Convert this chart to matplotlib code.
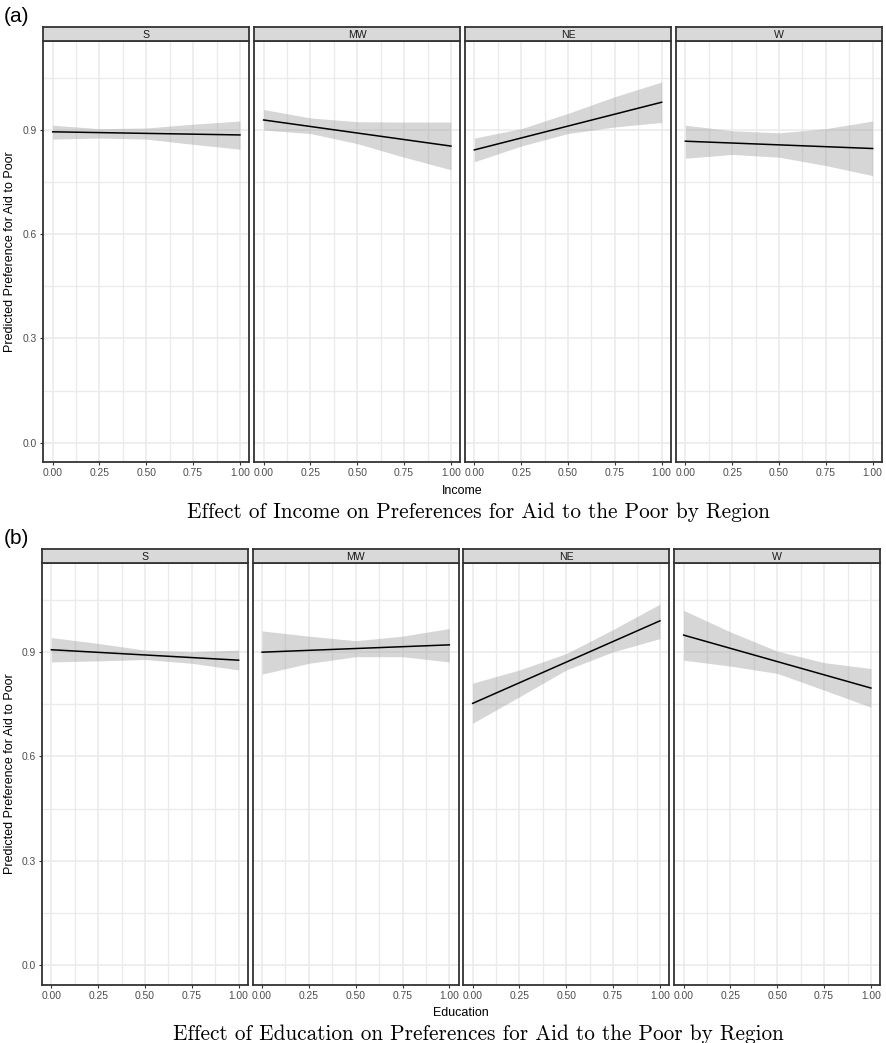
import matplotlib
matplotlib.use("Agg")
import matplotlib.pyplot as plt
import numpy as np
from matplotlib.ticker import MultipleLocator, FixedLocator

plt.rcParams.update({"font.family": ["Liberation Sans", "DejaVu Sans"]})

regions = ["S", "MW", "NE", "W"]
band_x = [0.0, 0.25, 0.5, 0.75, 1.0]
line_x = [0.0, 1.0]

# (a) income
inc_fit = {
    "S": [0.894, 0.885],
    "MW": [0.928, 0.853],
    "NE": [0.842, 0.979],
    "W": [0.867, 0.846],
}
inc_lo = {
    "S": [0.873, 0.876, 0.873, 0.858, 0.844],
    "MW": [0.899, 0.889, 0.860, 0.821, 0.785],
    "NE": [0.808, 0.853, 0.889, 0.908, 0.921],
    "W": [0.818, 0.829, 0.821, 0.797, 0.768],
}
inc_hi = {
    "S": [0.913, 0.903, 0.905, 0.916, 0.925],
    "MW": [0.958, 0.934, 0.923, 0.922, 0.922],
    "NE": [0.876, 0.903, 0.947, 0.995, 1.037],
    "W": [0.913, 0.897, 0.891, 0.903, 0.925],
}

# (b) education
edu_fit = {
    "S": [0.906, 0.876],
    "MW": [0.899, 0.920],
    "NE": [0.752, 0.989],
    "W": [0.948, 0.796],
}
edu_lo = {
    "S": [0.871, 0.874, 0.878, 0.867, 0.848],
    "MW": [0.836, 0.867, 0.886, 0.886, 0.871],
    "NE": [0.695, 0.771, 0.848, 0.900, 0.938],
    "W": [0.876, 0.859, 0.838, 0.790, 0.741],
}
edu_hi = {
    "S": [0.941, 0.924, 0.905, 0.900, 0.905],
    "MW": [0.960, 0.945, 0.932, 0.945, 0.967],
    "NE": [0.810, 0.848, 0.895, 0.964, 1.037],
    "W": [1.019, 0.957, 0.902, 0.869, 0.852],
}

x_ticks = [0.0, 0.25, 0.5, 0.75, 1.0]
x_labels = ["0.00", "0.25", "0.50", "0.75", "1.00"]
y_ticks = [0.0, 0.3, 0.6, 0.9]
y_labels = ["0.0", "0.3", "0.6", "0.9"]

W, H = 886, 1043
fig = plt.figure(figsize=(W / 100, H / 100), dpi=100)

border = "#333333"
grid = "#EBEBEB"


def px_axes(left, top, right, bottom):
    return fig.add_axes([left / W, 1 - bottom / H, (right - left) / W, (bottom - top) / H])


def draw_block(fit, lo, hi, lefts, strip_top, panel_top, panel_bottom, xlabel, tag, tag_y,
               xlab_y, title, title_y):
    for i, r in enumerate(regions):
        l = lefts[i]
        ax = px_axes(l, panel_top, l + 206, panel_bottom)
        ax.set_xlim(-0.05, 1.05)
        ax.set_ylim(-0.055, 1.155)
        ax.xaxis.set_major_locator(FixedLocator(x_ticks))
        ax.xaxis.set_minor_locator(MultipleLocator(0.125))
        ax.yaxis.set_major_locator(FixedLocator(y_ticks))
        ax.yaxis.set_minor_locator(FixedLocator([0.15, 0.45, 0.75, 1.05]))
        ax.grid(True, which="major", color=grid, lw=1.2, zorder=0)
        ax.grid(True, which="minor", color=grid, lw=1.0, zorder=0)
        ax.set_axisbelow(True)
        ax.fill_between(band_x, lo[r], hi[r], color="#999999", alpha=0.4, lw=0, zorder=2)
        ax.plot(line_x, fit[r], color="black", lw=1.1, zorder=3)
        ax.set_xticklabels(x_labels)
        ax.tick_params(axis="both", which="major", labelsize=7.4, colors=border,
                       labelcolor="#4D4D4D", length=2.5, width=0.8, pad=2)
        ax.tick_params(axis="both", which="minor", length=0)
        if i == 0:
            ax.set_yticklabels(y_labels)
        else:
            ax.tick_params(axis="y", which="major", length=0, labelleft=False)
        for s in ax.spines.values():
            s.set_color(border)
            s.set_linewidth(1.3)
        sx = px_axes(l, strip_top, l + 206, panel_top)
        sx.set_facecolor("#D9D9D9")
        sx.set_xticks([])
        sx.set_yticks([])
        for s in sx.spines.values():
            s.set_color(border)
            s.set_linewidth(1.3)
        sx.text(0.5, 0.45, r, ha="center", va="center", fontsize=7.6, color="#1A1A1A",
                transform=sx.transAxes)
    fig.text(4 / W, 1 - tag_y / H, tag, ha="left", va="center", fontsize=15)
    fig.text(10 / W, 1 - ((panel_top + panel_bottom) / 2) / H,
             "Predicted Preference for Aid to Poor", rotation=90, ha="center", va="center",
             fontsize=9)
    fig.text((lefts[0] + lefts[-1] + 206) / 2 / W, 1 - xlab_y / H, xlabel, ha="center",
             va="center", fontsize=9)
    fig.text(478 / W, 1 - title_y / H, title, ha="center", va="center", fontsize=15.3,
             family="cmr10")


draw_block(inc_fit, inc_lo, inc_hi, [43.3, 254.3, 465, 676], 27, 41, 462, "Income",
           "(a)", 16, 491, "Effect of Income on Preferences for Aid to the Poor by Region", 512)
draw_block(edu_fit, edu_lo, edu_hi, [42, 252.7, 463.3, 674.3], 549, 563, 984.5, "Education",
           "(b)", 539, 1013, "Effect of Education on Preferences for Aid to the Poor by Region",
           1034)

fig.savefig("out.png", dpi=100)
